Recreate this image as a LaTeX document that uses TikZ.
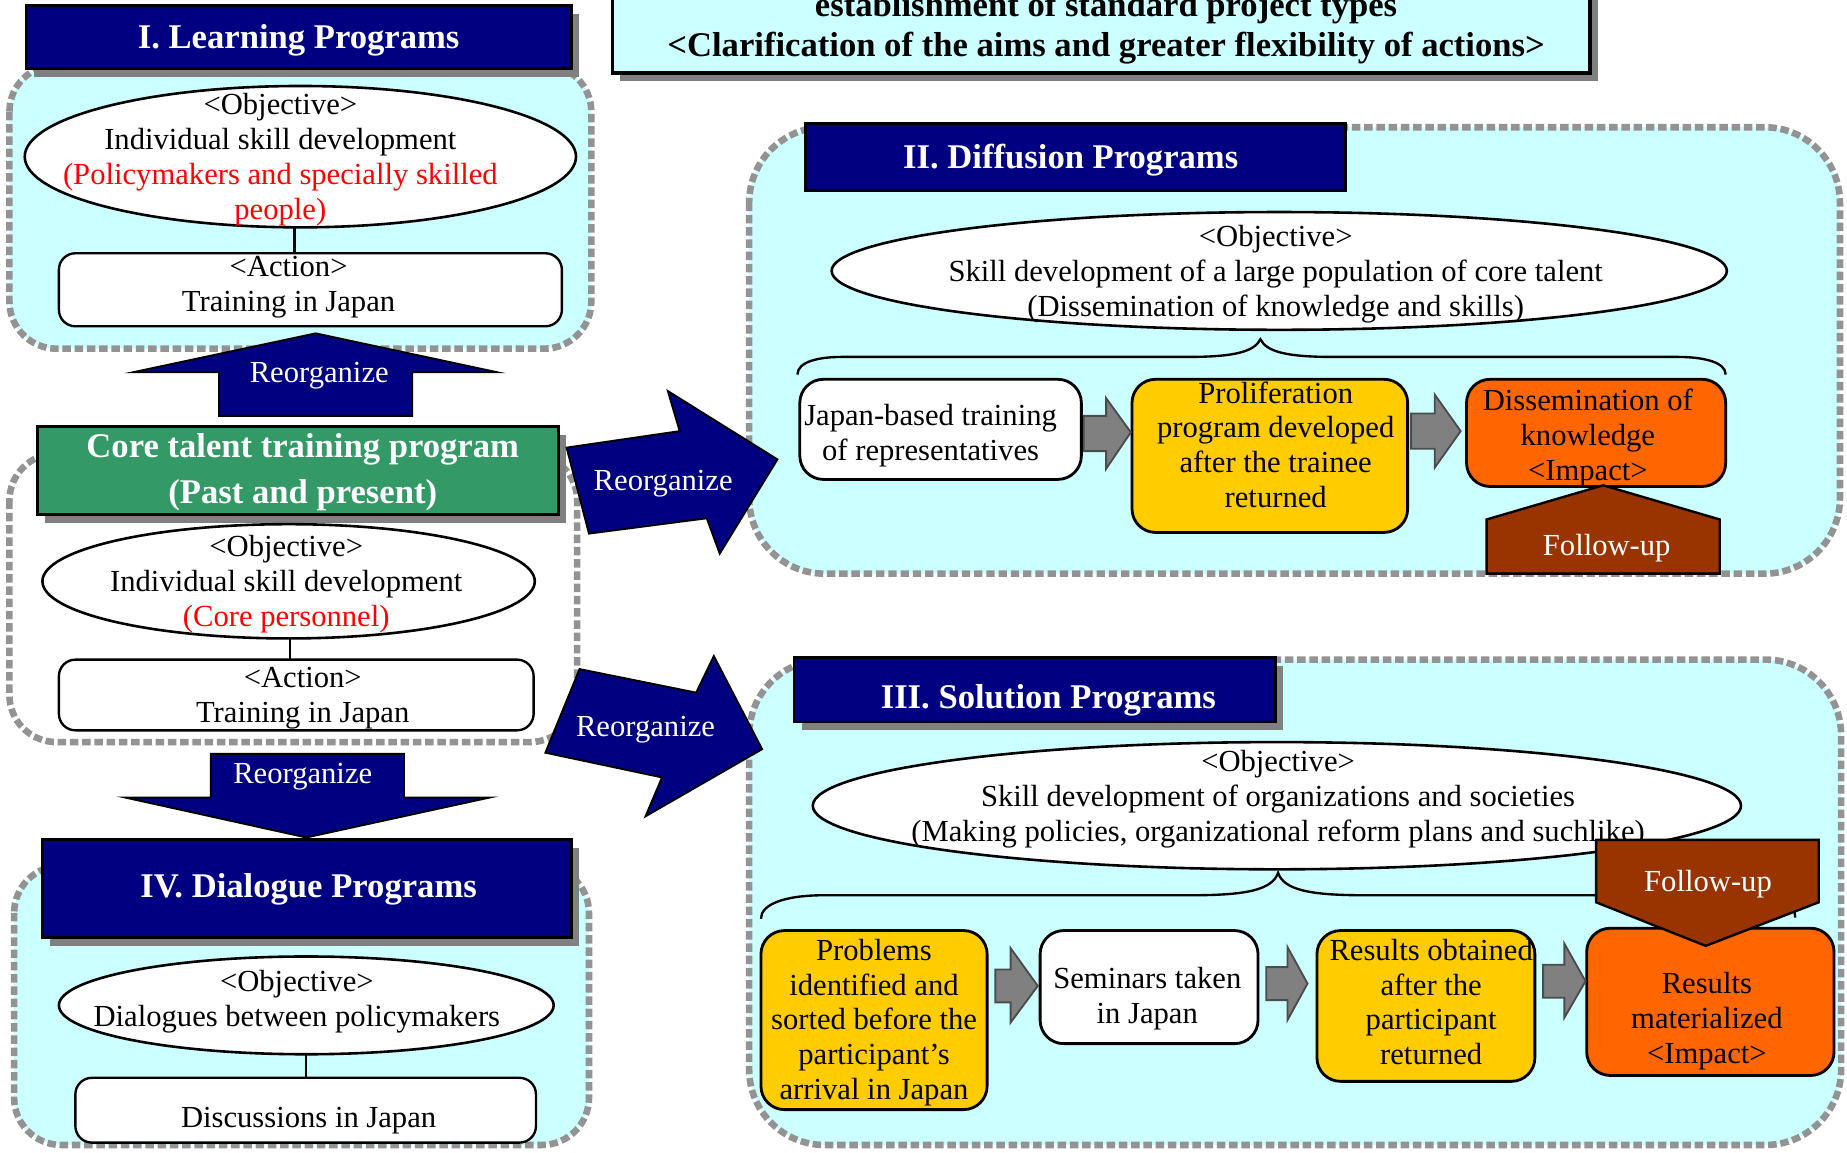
\documentclass[tikz,border=0pt]{standalone}
\usepackage{fontspec}
\setmainfont{Liberation Serif}
\usetikzlibrary{shapes.geometric,shadows}
\definecolor{navy}{HTML}{000080}
\definecolor{cyanbg}{HTML}{CCFFFF}
\definecolor{dashgray}{HTML}{939393}
\definecolor{greenbox}{HTML}{339966}
\definecolor{yel}{HTML}{FFCC00}
\definecolor{org}{HTML}{FF6600}
\definecolor{brn}{HTML}{993300}
\definecolor{shadowgray}{HTML}{808080}
\newcommand\nsz{\fontsize{13}{14.8}\selectfont}
\newcommand\hsz{\bfseries\fontsize{14.7}{17}\selectfont}
\newcommand\csz{\bfseries\fontsize{14.7}{19.5}\selectfont}
\begin{document}
\begin{tikzpicture}[x=0.5pt,y=-0.5pt,
  every node/.style={inner sep=0pt, outer sep=0pt},
  container/.style={draw=dashgray, line width=2.8pt, dash pattern=on 3.6pt off 1.6pt},
  header/.style={rectangle, draw=black, line width=1.2pt, fill=navy},
  htxt/.style={text=white, font=\hsz, yshift=-1.3pt},
  shadowed/.style={drop shadow={shadow xshift=3.25pt, shadow yshift=-3.5pt, fill=shadowgray, opacity=1}},
  objell/.style={ellipse, draw=black, line width=1.1pt, fill=white},
  actbox/.style={rectangle, rounded corners=7pt, draw=black, line width=1pt, fill=white},
  procbox/.style={rectangle, rounded corners=10pt, draw=black, line width=1.2pt},
  txt/.style={align=center, font=\nsz, yshift=-1.3pt},
  bigarrow/.style={draw=black, line width=0.8pt, fill=navy},
  grayarr/.style={draw=black!70, line width=0.8pt, fill=shadowgray},
  followup/.style={draw=black, line width=1pt, fill=brn},
  wtxt/.style={text=white, font=\nsz, yshift=-1.3pt},
  link/.style={draw=black, line width=1pt},
]
\useasboundingbox (0,0) rectangle (1568,978);
\fill[white] (0,0) rectangle (1568,978);
\clip (0,0) rectangle (1568,978);

% ---------- title ----------
\node[rectangle, draw=black, line width=1.5pt, fill=cyanbg, shadowed, minimum width=415pt, minimum height=51pt] (titlebox) at (935,11) {};
\node[align=center, font=\hsz, yshift=-1.3pt] (titletext) at (939,21) {establishment of standard project types\\<Clarification of the aims and greater flexibility of actions>};

% ---------- containers ----------
\draw[container, fill=cyanbg, rounded corners=20pt] (8,55) rectangle (502,296);
\draw[container, fill=white, rounded corners=20pt] (8,385) rectangle (490,630);
\draw[container, fill=cyanbg, rounded corners=20pt] (12,735) rectangle (500,972);
\draw[container, fill=cyanbg, rounded corners=32pt] (636,108) rectangle (1562,487);
\draw[container, fill=cyanbg, rounded corners=32pt] (636,560) rectangle (1563,972);

% ---------- I. Learning ----------
\node[header, shadowed, minimum width=231.5pt, minimum height=26.5pt] (h1) at (253.5,31.5) {};
\node[htxt] (h1t) at (h1) {I. Learning Programs};
\node[objell, minimum width=234pt, minimum height=60pt] (e1) at (255,133) {};
\node[txt] (t1) at (238,133) {<Objective>\\Individual skill development\\\textcolor{red}{(Policymakers and specially skilled}\\\textcolor{red}{people)}};
\node[actbox, minimum width=213.5pt, minimum height=31pt] (a1) at (263.5,246) {};
\node[txt] (a1t) at (245,241) {<Action>\\Training in Japan};
\draw[link] (e1.south -| 250,0) -- (a1.north -| 250,0);

% ---------- core ----------
\node[rectangle, draw=black, line width=1.2pt, fill=greenbox, shadowed, minimum width=221pt, minimum height=37.5pt] (core) at (253,399.5) {};
\node[text=white, font=\csz, align=center, yshift=-1pt] (coret) at (257,399) {Core talent training program\\(Past and present)};
\node[objell, minimum width=209pt, minimum height=48.5pt] (ec) at (245,493.5) {};
\node[txt] (tc) at (243,493) {<Objective>\\Individual skill development\\\textcolor{red}{(Core personnel)}};
\node[actbox, minimum width=201.5pt, minimum height=30pt] (ac) at (251.5,590) {};
\node[txt] (act) at (257,590) {<Action>\\Training in Japan};
\draw[link] (ec.south -| 246,0) -- (ac.north -| 246,0);

% ---------- IV. Dialogue ----------
\node[header, shadowed, minimum width=224.5pt, minimum height=41.5pt] (h4) at (260.5,754.5) {};
\node[htxt] (h4t) at (262,752) {IV. Dialogue Programs};
\node[objell, minimum width=210pt, minimum height=41.5pt] (e4) at (260,853.5) {};
\node[txt] (t4) at (252,848) {<Objective>\\Dialogues between policymakers};
\node[actbox, minimum width=195.5pt, minimum height=27.5pt] (a4) at (259.5,942.5) {};
\node[txt] (a4t) at (262,949) {Discussions in Japan};
\draw[link] (e4.south) -- (e4.south |- a4.north);

% ---------- big navy arrows ----------
\draw[bigarrow] (268,283) -- (422,316) -- (350,316) -- (350,353) -- (186,353) -- (186,316) -- (113,316) -- cycle;
\node[wtxt] (r1) at (271,316) {Reorganize};
\draw[bigarrow] (179,640) -- (343,640) -- (343,677) -- (416,677) -- (260,711) -- (106,677) -- (179,677) -- cycle;
\node[wtxt] (r4) at (257,657) {Reorganize};
\draw[bigarrow] (481,380) -- (577,366) -- (567,332) -- (660,390) -- (611,470) -- (600,440) -- (500,453) -- cycle;
\node[wtxt] (r2) at (563,408) {Reorganize};
\draw[bigarrow] (492,568) -- (591,588) -- (606,557) -- (647,636) -- (548,693) -- (562,660) -- (463,639) -- cycle;
\node[wtxt] (r3) at (548,617) {Reorganize};

% ---------- II. Diffusion ----------
\node[header, minimum width=229pt, minimum height=28.5pt] (h2) at (913,133.5) {};
\node[htxt] (h2t) at (909,133) {II. Diffusion Programs};
\node[objell, minimum width=380pt, minimum height=50pt] (e2) at (1086,230) {};
\node[txt] (t2) at (1083,230) {<Objective>\\Skill development of a large population of core talent\\(Dissemination of knowledge and skills)};
\draw[link] (677,318) .. controls (677,307) and (695,303) .. (715,303) -- (1009,303) .. controls (1050,303) and (1065,298) .. (1070,288) .. controls (1075,298) and (1090,303) .. (1131,303) -- (1424,303) .. controls (1445,303) and (1465,307) .. (1465,318);
\node[procbox, fill=white, minimum width=119.5pt, minimum height=42.5pt] (b1) at (798.5,364.5) {};
\node[txt] (b1t) at (790,367) {Japan-based training\\of representatives};
\node[procbox, fill=yel, minimum width=117pt, minimum height=65pt] (b2) at (1078,387) {};
\node[txt] (b2t) at (1083,375) {Proliferation\\program developed\\after the trainee\\returned};
\node[procbox, fill=org, minimum width=110pt, minimum height=45.5pt] (b3) at (1355,367.5) {};
\node[txt] (b3t) at (1348,369) {Dissemination of\\knowledge\\<Impact>};
\draw[grayarr] (920,353) -- (939,353) -- (939,338) -- (960,367) -- (939,398) -- (939,383) -- (920,383) -- cycle;
\draw[grayarr] (1198,351) -- (1218,351) -- (1218,335) -- (1240,366) -- (1218,397) -- (1218,381) -- (1198,381) -- cycle;
\draw[followup] (1262,487) -- (1262,441) -- (1361,412) -- (1460,441) -- (1460,487) -- cycle;
\node[wtxt] (f2) at (1364,463) {Follow-up};

% ---------- III. Solution ----------
\node[header, shadowed, minimum width=204.5pt, minimum height=27.5pt] (h3) at (878.5,585.5) {};
\node[htxt] (h3t) at (890,592) {III. Solution Programs};
\node[objell, minimum width=394pt, minimum height=54pt] (e3) at (1084,684) {};
\node[txt] (t3) at (1085,676) {<Objective>\\Skill development of organizations and societies\\(Making policies, organizational reform plans and suchlike)};
\draw[link] (646,780) .. controls (646,768) and (665,760) .. (700,760) -- (1012,760) .. controls (1060,760) and (1080,755) .. (1085,741) .. controls (1090,755) and (1110,760) .. (1158,760) -- (1495,760) .. controls (1515,760) and (1524,768) .. (1524,779);
\node[procbox, fill=yel, minimum width=96pt, minimum height=76pt] (p1) at (742,866) {};
\node[txt] (p1t) at (742,865.5) {Problems\\identified and\\sorted before the\\participant’s\\arrival in Japan};
\node[procbox, fill=white, minimum width=92.5pt, minimum height=48pt] (p2) at (975.5,838) {};
\node[txt] (p2t) at (974,845) {Seminars taken\\in Japan};
\node[procbox, fill=yel, minimum width=92.5pt, minimum height=64pt] (p3) at (1210.5,854) {};
\node[txt] (p3t) at (1215,848) {Results obtained\\after the\\participant\\returned};
\node[procbox, fill=org, minimum width=105pt, minimum height=62.5pt] (p4) at (1452,850.5) {};
\node[txt] (p4t) at (1449,864) {Results\\materialized\\<Impact>};
\draw[grayarr] (845,823) -- (858,823) -- (858,805) -- (881,837) -- (858,868) -- (858,851) -- (845,851) -- cycle;
\draw[grayarr] (1075,821) -- (1093,821) -- (1093,804) -- (1110,835) -- (1093,866) -- (1093,849) -- (1075,849) -- cycle;
\draw[grayarr] (1310,819) -- (1328,819) -- (1328,801) -- (1346,833) -- (1328,864) -- (1328,847) -- (1310,847) -- cycle;
\draw[followup] (1355,713) -- (1544,713) -- (1544,766) -- (1448,803) -- (1355,766) -- cycle;
\node[wtxt] (f3) at (1450,748) {Follow-up};
\end{tikzpicture}
\end{document}
